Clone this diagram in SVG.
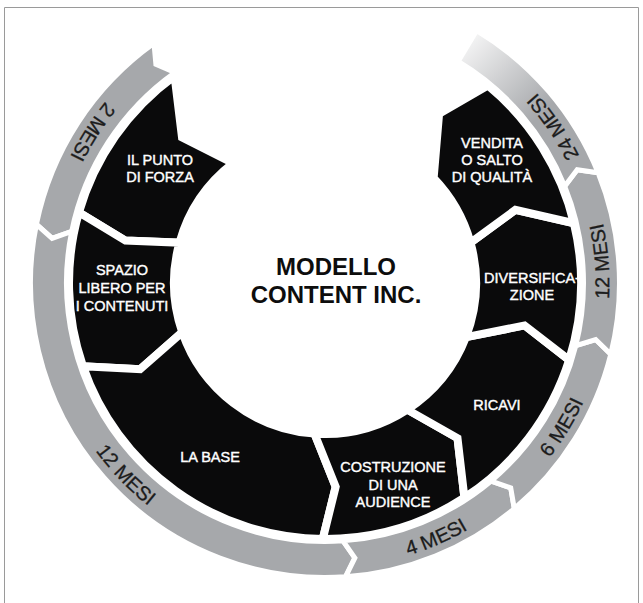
<svg xmlns="http://www.w3.org/2000/svg" width="643" height="603" viewBox="0 0 643 603">
  <defs>
    <style>
      .piece { fill: #0a0a0b; stroke: #ffffff; stroke-width: 8; stroke-linejoin: miter; }
      .band { fill: #a6a8ab; stroke: #ffffff; stroke-width: 5; stroke-linejoin: miter; }
      .lbl { font-family: "Liberation Sans", Arial, sans-serif; font-size: 14.5px; fill: #ffffff; stroke: #ffffff; stroke-width: 0.4; text-anchor: middle; }
      .title { font-family: "Liberation Sans", Arial, sans-serif; font-size: 24px; font-weight: bold; fill: #0d0d0d; text-anchor: middle; }
      .dur { font-family: "Liberation Sans", Arial, sans-serif; font-size: 20px; fill: #1c1c1c; stroke: #1c1c1c; stroke-width: 0.3; text-anchor: middle; }
    </style>
    <linearGradient id="fade" gradientUnits="userSpaceOnUse" x1="470" y1="35" x2="545" y2="110">
      <stop offset="0" stop-color="#f6f6f6"/>
      <stop offset="1" stop-color="#a6a8ab"/>
    </linearGradient>
    <!-- baseline circle for the duration labels, running counter-clockwise on screen -->
    <path id="ring" d="M227.52,15.19 A285,285 0 0 0 422.48,550.81 A285,285 0 0 0 227.52,15.19"/>
  </defs>

  <rect width="643" height="603" fill="#ffffff"/>
  <path d="M4.5,603 V7.5 H638.5 V603" fill="none" stroke="#9a9a9a" stroke-width="1"/>

  <!-- duration bands -->
  <g id="timeline">
    <path class="band" d="M153.98,43.24 A294.5,294.5 0 0 0 36.41,224.28 L52.13,238.32 L71.69,231.46 A258.5,258.5 0 0 1 174.89,72.55 L155.90,64.24 Z"/>
    <path class="band" d="M36.41,224.28 A294.5,294.5 0 0 0 345.54,576.78 L354.86,557.88 L343.03,540.87 A258.5,258.5 0 0 1 71.69,231.46 L52.13,238.32 Z"/>
    <path class="band" d="M345.54,576.78 A294.5,294.5 0 0 0 514.30,508.60 L510.73,487.83 L491.16,481.02 A258.5,258.5 0 0 1 343.03,540.87 L354.86,557.88 Z"/>
    <path class="band" d="M514.30,508.60 A294.5,294.5 0 0 0 610.75,354.25 L595.66,339.54 L575.82,345.54 A258.5,258.5 0 0 1 491.16,481.02 L510.73,487.83 Z"/>
    <path class="band" d="M610.75,354.25 A294.5,294.5 0 0 0 598.05,172.68 L577.20,169.66 L564.68,186.16 A258.5,258.5 0 0 1 575.82,345.54 L595.66,339.54 Z"/>
    <path class="band" style="fill:url(#fade)" d="M598.05,172.68 A294.5,294.5 0 0 0 476.68,30.56 L458.14,61.42 A258.5,258.5 0 0 1 564.68,186.16 L577.20,169.66 Z"/>
    <text class="dur"><textPath href="#ring" startOffset="184">2 MESI</textPath></text>
    <text class="dur"><textPath href="#ring" startOffset="565.6">12 MESI</textPath></text>
    <text class="dur"><textPath href="#ring" startOffset="911.3">4 MESI</textPath></text>
    <text class="dur"><textPath href="#ring" startOffset="1085.9">6 MESI</textPath></text>
    <text class="dur"><textPath href="#ring" startOffset="1263.5">12 MESI</textPath></text>
    <text class="dur"><textPath href="#ring" startOffset="1411.7">24 MESI</textPath></text>
  </g>

  <!-- stages -->
  <g id="punto-di-forza">
    <path class="piece" d="M174.53,75.89 A256,256 0 0 0 78.92,212.44 L125.46,240.59 L179.49,242.65 A151,151 0 0 1 233.08,163.20 L182.01,137.50 Z"/>
    <text class="lbl" x="160" y="165">IL PUNTO</text>
    <text class="lbl" x="160" y="182">DI FORZA</text>
  </g>
  <g id="spazio-libero">
    <path class="piece" d="M78.92,212.44 A256,256 0 0 0 82.95,366.35 L140.11,369.21 L182.23,332.16 A151,151 0 0 1 179.49,242.65 L125.46,240.59 Z"/>
    <text class="lbl" x="122" y="275">SPAZIO</text>
    <text class="lbl" x="122" y="293">LIBERO PER</text>
    <text class="lbl" x="122" y="311">I CONTENUTI</text>
  </g>
  <g id="la-base">
    <path class="piece" d="M82.95,366.35 A256,256 0 0 0 322.77,538.99 L335.68,486.72 L314.47,433.63 A151,151 0 0 1 182.23,332.16 L140.11,369.21 Z"/>
    <text class="lbl" x="210" y="462">LA BASE</text>
  </g>
  <g id="costruzione-audience">
    <path class="piece" d="M322.77,538.99 A256,256 0 0 0 464.43,497.70 L457.49,438.12 L407.24,409.64 A151,151 0 0 1 314.47,433.63 L335.68,486.72 Z"/>
    <text class="lbl" x="393" y="472">COSTRUZIONE</text>
    <text class="lbl" x="393" y="490">DI UNA</text>
    <text class="lbl" x="393" y="507">AUDIENCE</text>
  </g>
  <g id="ricavi">
    <path class="piece" d="M464.43,497.70 A256,256 0 0 0 569.15,359.98 L524.54,325.41 L465.97,337.11 A151,151 0 0 1 407.24,409.64 L457.49,438.12 Z"/>
    <text class="lbl" x="497" y="410">RICAVI</text>
  </g>
  <g id="diversificazione">
    <path class="piece" d="M569.15,359.98 A256,256 0 0 0 573.93,223.24 L515.45,209.89 L470.51,242.65 A151,151 0 0 1 465.97,337.11 L524.54,325.41 Z"/>
    <text class="lbl" x="532" y="283">DIVERSIFICA-</text>
    <text class="lbl" x="532" y="300">ZIONE</text>
  </g>
  <g id="vendita">
    <path class="piece" d="M573.93,223.24 A256,256 0 0 0 487.84,85.47 L439.07,113.88 L433.62,178.11 A151,151 0 0 1 470.51,242.65 L515.45,209.89 Z"/>
    <text class="lbl" x="492" y="148">VENDITA</text>
    <text class="lbl" x="492" y="165">O SALTO</text>
    <text class="lbl" x="492" y="182">DI QUALITÀ</text>
  </g>

  <g id="modello">
    <text class="title" x="336" y="275">MODELLO</text>
    <text class="title" x="336" y="303">CONTENT INC.</text>
  </g>
</svg>
